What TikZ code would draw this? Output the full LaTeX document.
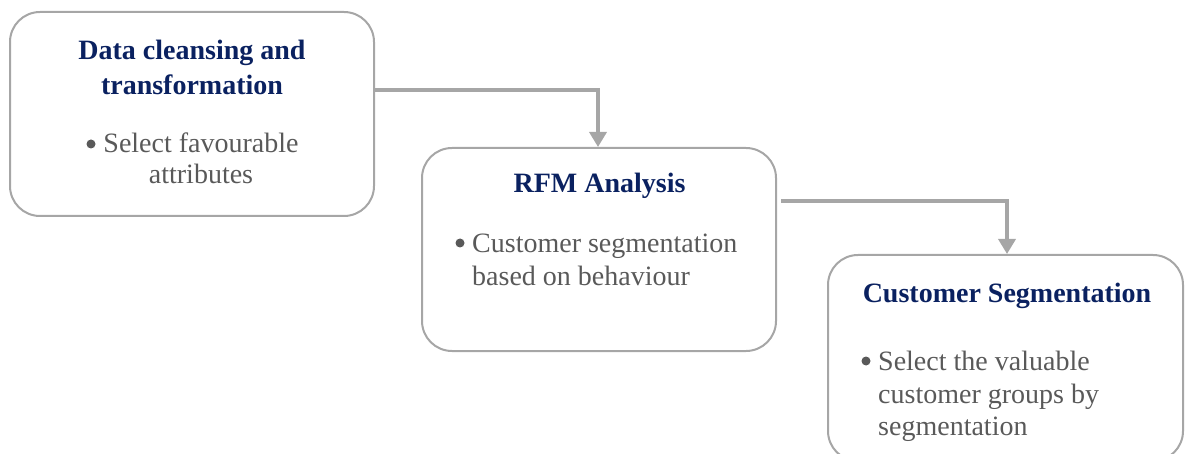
\documentclass[tikz,border=0pt]{standalone}
\usepackage{fontspec}
\setmainfont{Liberation Serif}
\usetikzlibrary{positioning,calc,arrows.meta}

\definecolor{boxgray}{RGB}{166,166,166}
\definecolor{titleblue}{RGB}{10,33,96}
\definecolor{textgray}{RGB}{89,89,89}

\begin{document}
\begin{tikzpicture}[x=1pt,y=-1pt,
  stage/.style={draw=boxgray, line width=2pt, rounded corners=30pt, inner sep=0pt},
  heading/.style={text=titleblue, font=\fontsize{28}{35}\selectfont\bfseries, anchor=base},
  item/.style={text=textgray, font=\fontsize{28}{32.5}\selectfont, anchor=base west, inner sep=0pt},
  dot/.style={circle, fill=textgray, minimum size=9pt, inner sep=0pt},
  flow/.style={draw=boxgray, line width=3.5pt, -{Triangle[length=15pt,width=17pt]}}]
  \clip (0,0) rectangle (1185,454);

  % Boxes
  \node[stage, minimum width=364pt, minimum height=204pt] (clean) at (192,114) {};
  \node[stage, minimum width=354pt, minimum height=203pt] (rfm) at (599,249.5) {};
  \node[stage, minimum width=355pt, minimum height=206pt] (seg) at (1005.5,358) {};

  % Titles
  \node[heading] (cleantitle) at (192,60) {Data cleansing and};
  \node[heading] (cleantitleb) at (192,95) {transformation};
  \node[heading] (rfmtitle) at (599.5,193) {RFM Analysis};
  \node[heading] (segtitle) at (1007,302) {Customer Segmentation};

  % Bullets
  \node[dot] (cleandot) at (91,144) {};
  \node[item, anchor=base] (cleanitem) at (201,153) {Select favourable};
  \node[item, anchor=base] (cleanitemb) at (201,184) {attributes};

  \node[dot] (rfmdot) at (460,243) {};
  \node[item] (rfmitem) at (472,252) {Customer segmentation};
  \node[item] (rfmitemb) at (472,285) {based on behaviour};

  \node[dot] (segdot) at (866,361) {};
  \node[item] (segitem) at (878,370) {Select the valuable};
  \node[item] (segitemb) at (878,403) {customer groups by};
  \node[item] (segitemc) at (878,435) {segmentation};

  % Arrows
  \draw[flow] ([yshift=24pt]clean.east) -| ([xshift=-1pt]rfm.north);
  \draw[flow] ([xshift=4pt,yshift=48.5pt]rfm.east) -| ([xshift=1.5pt]seg.north);
\end{tikzpicture}
\end{document}
